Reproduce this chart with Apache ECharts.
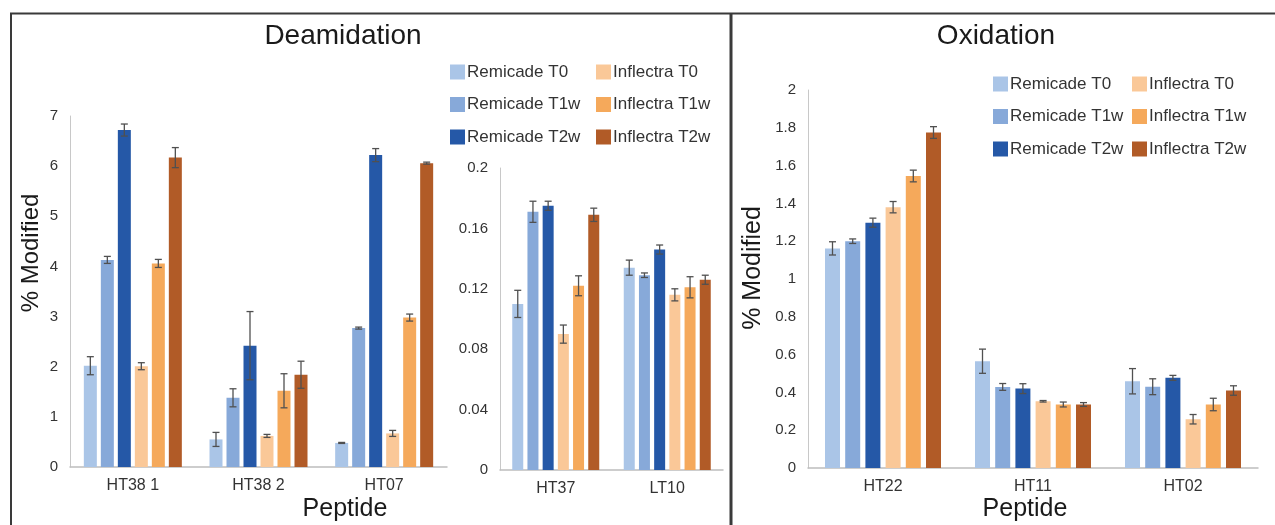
<!DOCTYPE html>
<html>
<head>
<meta charset="utf-8">
<script src="https://cdn.jsdelivr.net/npm/echarts@6/dist/echarts.min.js"></script>
<style>
html,body{margin:0;padding:0;background:#fff;}
#chart{width:1275px;height:525px;}
</style>
</head>
<body>
<div id="chart"></div>
<script>
// ---- data ----
const seriesNames = ['Remicade T0','Remicade T1w','Remicade T2w','Inflectra T0','Inflectra T1w','Inflectra T2w'];
const seriesColors = ['#aac5e7','#87a9d9','#2558a7','#fac898','#f5a95b','#b15b27'];

const deamCats = ['HT38 1','HT38 2','HT07'];
const deamRT0  = [2.02, 0.55, 0.48];  const deamRT0Err  = [0.18, 0.14, 0.01];
const deamRT1w = [4.13, 1.38, 2.77];  const deamRT1wErr = [0.07, 0.18, 0.02];
const deamRT2w = [6.72, 2.42, 6.22];  const deamRT2wErr = [0.12, 0.68, 0.13];
const deamIT0  = [2.01, 0.62, 0.67];  const deamIT0Err  = [0.07, 0.03, 0.06];
const deamIT1w = [4.06, 1.52, 2.98];  const deamIT1wErr = [0.08, 0.34, 0.07];
const deamIT2w = [6.17, 1.84, 6.06];  const deamIT2wErr = [0.20, 0.27, 0.02];

const minorCats = ['HT37','LT10'];
const minorRT0  = [0.110, 0.134]; const minorRT0Err  = [0.009, 0.005];
const minorRT1w = [0.171, 0.129]; const minorRT1wErr = [0.007, 0.0015];
const minorRT2w = [0.175, 0.146]; const minorRT2wErr = [0.003, 0.003];
const minorIT0  = [0.090, 0.116]; const minorIT0Err  = [0.006, 0.004];
const minorIT1w = [0.122, 0.121]; const minorIT1wErr = [0.0066, 0.007];
const minorIT2w = [0.169, 0.126]; const minorIT2wErr = [0.0044, 0.003];

const oxCats = ['HT22','HT11','HT02'];
const oxRT0  = [1.162, 0.565, 0.459]; const oxRT0Err  = [0.035, 0.064, 0.067];
const oxRT1w = [1.200, 0.429, 0.430]; const oxRT1wErr = [0.012, 0.018, 0.042];
const oxRT2w = [1.298, 0.420, 0.477]; const oxRT2wErr = [0.024, 0.026, 0.013];
const oxIT0  = [1.380, 0.353, 0.258]; const oxIT0Err  = [0.030, 0.004, 0.025];
const oxIT1w = [1.545, 0.336, 0.336]; const oxIT1wErr = [0.031, 0.013, 0.033];
const oxIT2w = [1.775, 0.336, 0.410]; const oxIT2wErr = [0.031, 0.010, 0.025];

const deamTicks = [0,1,2,3,4,5,6,7];
const minorTicks = ['0','0.04','0.08','0.12','0.16','0.2'];
const oxTicks = ['0','0.2','0.4','0.6','0.8','1','1.2','1.4','1.6','1.8','2'];

// ---- build ----
const FONT = '"Liberation Sans", Arial, sans-serif';
const panels = [
  {cats: deamCats, vals: [deamRT0,deamRT1w,deamRT2w,deamIT0,deamIT1w,deamIT2w],
   errs: [deamRT0Err,deamRT1wErr,deamRT2wErr,deamIT0Err,deamIT1wErr,deamIT2wErr],
   bw: 13, gap: 4, min: 0, max: 7, interval: 1},
  {cats: minorCats, vals: [minorRT0,minorRT1w,minorRT2w,minorIT0,minorIT1w,minorIT2w],
   errs: [minorRT0Err,minorRT1wErr,minorRT2wErr,minorIT0Err,minorIT1wErr,minorIT2wErr],
   bw: 11, gap: 4.2, min: 0, max: 0.2, interval: 0.04},
  {cats: oxCats, vals: [oxRT0,oxRT1w,oxRT2w,oxIT0,oxIT1w,oxIT2w],
   errs: [oxRT0Err,oxRT1wErr,oxRT2wErr,oxIT0Err,oxIT1wErr,oxIT2wErr],
   bw: 15, gap: 5.2, min: 0, max: 2, interval: 0.2}
];

const grids = [
  {left: 70, top: 116, width: 377, height: 351},
  {left: 500, top: 168, width: 223, height: 302},
  {left: 808, top: 90, width: 450, height: 378}
];

const xAxes = [], yAxes = [], series = [];
panels.forEach((p, gi) => {
  xAxes.push({
    type: 'category', gridIndex: gi, data: p.cats,
    axisLine: {lineStyle: {color: '#bdbdbd', width: 1.5}},
    axisTick: {show: false},
    axisLabel: {color: '#333', fontSize: 16, fontFamily: FONT, margin: 11}
  });
  yAxes.push({
    type: 'value', gridIndex: gi, min: p.min, max: p.max, interval: p.interval,
    axisLine: {show: true, lineStyle: {color: '#c8c8c8', width: 1}},
    axisTick: {show: false},
    splitLine: {show: false},
    axisLabel: {color: '#333', fontSize: 15, fontFamily: FONT, margin: 12,
      formatter: v => String(parseFloat(v.toFixed(2)))}
  });
  p.vals.forEach((arr, si) => {
    series.push({
      name: seriesNames[si], type: 'bar', xAxisIndex: gi, yAxisIndex: gi,
      data: arr, barWidth: p.bw, barGap: (p.gap / p.bw * 100) + '%',
      itemStyle: {color: seriesColors[si]}, z: 2
    });
  });
  const errData = [];
  p.vals.forEach((arr, si) => arr.forEach((v, ci) => errData.push([ci, si, v, p.errs[si][ci]])));
  series.push({
    type: 'custom', xAxisIndex: gi, yAxisIndex: gi, z: 5, silent: true,
    data: errData,
    renderItem: (params, api) => {
      const ci = api.value(0), si = api.value(1), v = api.value(2), e = api.value(3);
      const off = (si - 2.5) * (p.bw + p.gap);
      const top = api.coord([ci, v + e]);
      const bot = api.coord([ci, v - e]);
      const x = top[0] + off;
      const cw = 3.5;
      const st = {stroke: '#505050', lineWidth: 1.3};
      return {type: 'group', children: [
        {type: 'line', shape: {x1: x, y1: top[1], x2: x, y2: bot[1]}, style: st},
        {type: 'line', shape: {x1: x - cw, y1: top[1], x2: x + cw, y2: top[1]}, style: st},
        {type: 'line', shape: {x1: x - cw, y1: bot[1], x2: x + cw, y2: bot[1]}, style: st}
      ]};
    }
  });
});

function legendCol(left, top, names) {
  return {
    orient: 'vertical', left: left, top: top, data: names, padding: 0,
    icon: 'rect', itemWidth: 15, itemHeight: 15, itemGap: 15.5,
    textStyle: {fontSize: 17, color: '#333', fontFamily: FONT, padding: [0,0,0,-3]}
  };
}

const option = {
  animation: false,
  grid: grids,
  xAxis: xAxes,
  yAxis: yAxes,
  legend: [
    legendCol(450, 63.5, seriesNames.slice(0,3)),
    legendCol(596, 63.5, seriesNames.slice(3)),
    legendCol(993, 75.5, seriesNames.slice(0,3)),
    legendCol(1132, 75.5, seriesNames.slice(3))
  ],
  series: series,
  graphic: [
    {type: 'line', shape: {x1: 10, y1: 13.5, x2: 1275, y2: 13.5}, style: {stroke: '#3a3a3a', lineWidth: 2}},
    {type: 'line', shape: {x1: 11, y1: 13, x2: 11, y2: 525}, style: {stroke: '#3a3a3a', lineWidth: 2}},
    {type: 'line', shape: {x1: 731, y1: 13, x2: 731, y2: 525}, style: {stroke: '#3a3a3a', lineWidth: 3}},
    {type: 'text', x: 343, y: 36, style: {text: 'Deamidation', font: '28px ' + FONT, fill: '#1a1a1a', align: 'center', verticalAlign: 'middle'}},
    {type: 'text', x: 996, y: 36, style: {text: 'Oxidation', font: '28px ' + FONT, fill: '#1a1a1a', align: 'center', verticalAlign: 'middle'}},
    {type: 'text', x: 31, y: 253, rotation: Math.PI / 2, style: {text: '% Modified', font: '24px ' + FONT, fill: '#1a1a1a', align: 'center', verticalAlign: 'middle'}},
    {type: 'text', x: 753, y: 268, rotation: Math.PI / 2, style: {text: '% Modified', font: '25px ' + FONT, fill: '#1a1a1a', align: 'center', verticalAlign: 'middle'}},
    {type: 'text', x: 345, y: 509, style: {text: 'Peptide', font: '25px ' + FONT, fill: '#1a1a1a', align: 'center', verticalAlign: 'middle'}},
    {type: 'text', x: 1025, y: 509, style: {text: 'Peptide', font: '25px ' + FONT, fill: '#1a1a1a', align: 'center', verticalAlign: 'middle'}}
  ]
};

const chart = echarts.init(document.getElementById('chart'));
chart.setOption(option);
</script>
</body>
</html>
